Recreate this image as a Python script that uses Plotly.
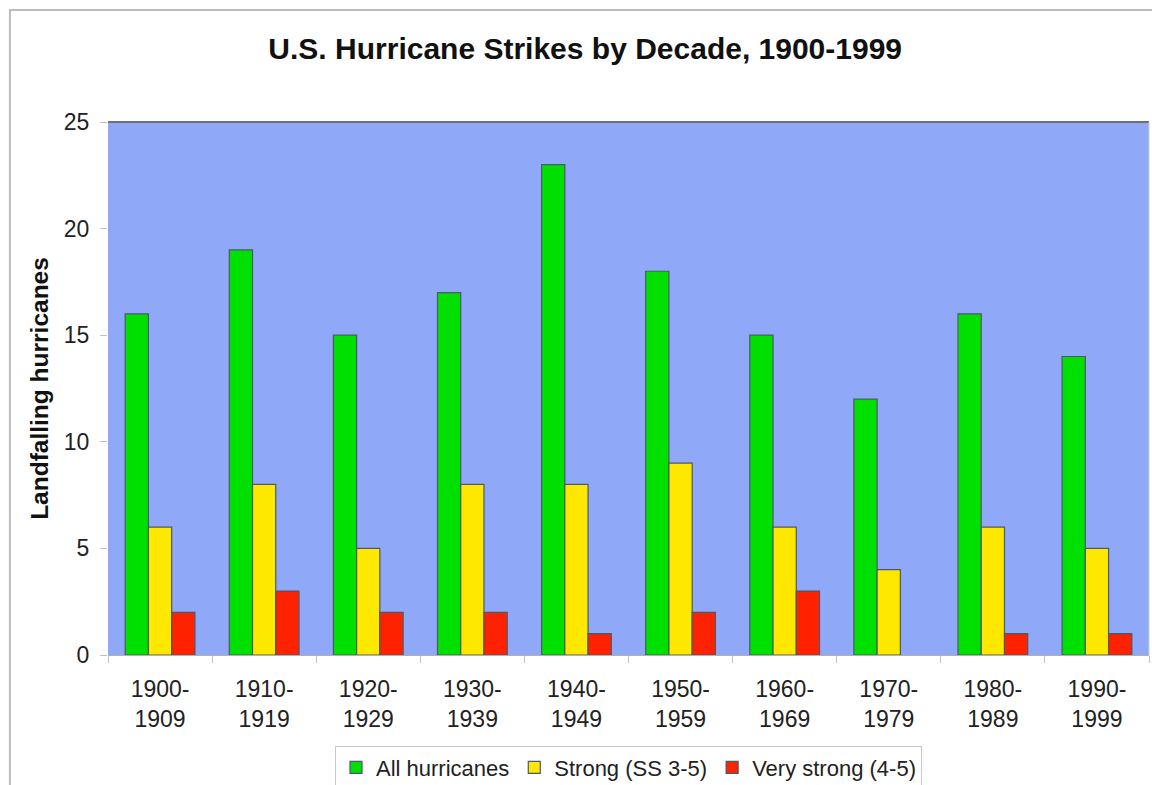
import plotly.graph_objects as go

decades = ["1900-<br>1909", "1910-<br>1919", "1920-<br>1929", "1930-<br>1939", "1940-<br>1949",
           "1950-<br>1959", "1960-<br>1969", "1970-<br>1979", "1980-<br>1989", "1990-<br>1999"]
all_hurricanes = [16, 19, 15, 17, 23, 18, 15, 12, 16, 14]
strong = [6, 8, 5, 8, 8, 9, 6, 4, 6, 5]
very_strong = [2, 3, 2, 2, 1, 2, 3, 0, 1, 1]

series = [
    ("All hurricanes", all_hurricanes, "#00E000"),
    ("Strong (SS 3-5)", strong, "#FFE800"),
    ("Very strong (4-5)", very_strong, "#FF2200"),
]

fig = go.Figure()
for name, vals, col in series:
    fig.add_trace(go.Bar(
        x=decades, y=vals, name=name,
        marker=dict(color=col,
                    line=dict(color="#4a5a6a", width=[1.2 if v > 0 else 0 for v in vals])),
    ))

font = "Liberation Sans, Arial, sans-serif"
fig.update_layout(
    width=1152, height=785,
    margin=dict(l=108, r=3, t=122, b=130, autoexpand=False),
    paper_bgcolor="white",
    plot_bgcolor="#90A8F8",
    barmode="group", bargap=0.33, bargroupgap=0,
    title=dict(text="<b>U.S. Hurricane Strikes by Decade, 1900-1999</b>",
               x=0.508, xanchor="center", y=0.938, yanchor="middle",
               font=dict(family=font, size=30, color="#111")),
    font=dict(family=font, size=22, color="#222"),
    showlegend=True,
    legend=dict(orientation="h", x=0.5, xanchor="center", y=-0.170, yanchor="top",
                bordercolor="#c8c8c8", borderwidth=1, bgcolor="white",
                font=dict(size=22, color="#222"), itemwidth=30,
                traceorder="normal"),
    xaxis=dict(showline=True, linecolor="#b0b0b0", linewidth=1, automargin=False,
               ticks="outside", tickson="boundaries", tickcolor="#c0c0c0", ticklen=7,
               ticklabelstandoff=13,
               tickfont=dict(size=23, color="#222"), showgrid=False),
    yaxis=dict(range=[0, 25], dtick=5, showgrid=False, zeroline=False, automargin=False,
               ticks="outside", tickcolor="#c0c0c0", ticklen=7,
               ticklabelstandoff=6, showline=False,
               tickfont=dict(size=23, color="#222"),
               title=dict(text="<b>Landfalling hurricanes</b>", standoff=8,
                          font=dict(size=24.5, color="#111"))),
    shapes=[
        dict(type="line", xref="paper", yref="paper", x0=0, x1=1, y0=1, y1=1,
             line=dict(color="#707070", width=2)),
        dict(type="line", xref="paper", yref="paper", x0=1, x1=1, y0=0, y1=1,
             line=dict(color="#d0d0d0", width=1)),
        dict(type="rect", xref="paper", yref="paper", x0=-0.0942, x1=1.05, y0=-0.3, y1=1.21,
             line=dict(color="#bdbdbd", width=2), layer="below"),
    ],
)

fig.write_html("out.html", config={"displayModeBar": False},
               post_script="document.body.style.margin='0';document.body.style.overflow='hidden';")
